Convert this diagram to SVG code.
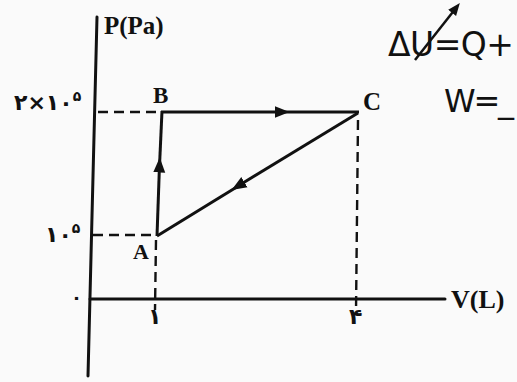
<svg xmlns="http://www.w3.org/2000/svg" width="517" height="382" viewBox="0 0 517 382">
<style>
.ax{stroke:#111;stroke-width:3;fill:none;stroke-linecap:round}
.ln{stroke:#111;stroke-width:3;fill:none}
.ds{stroke:#111;stroke-width:2.4;fill:none;stroke-dasharray:10,6}
.lb{font-family:"Liberation Serif",serif;font-weight:bold;fill:#111}
.fa{font-family:"DejaVu Sans",sans-serif;font-weight:bold;fill:#111}
.hw{font-family:"DejaVu Sans",sans-serif;fill:#111}
</style>
<defs>
<marker id="ar" viewBox="0 0 10 10" refX="5" refY="5" markerWidth="5" markerHeight="5" orient="auto" markerUnits="strokeWidth">
<path d="M0,1 L10,5 L0,9 Z" fill="#111"/>
</marker>
</defs>
<rect width="517" height="382" fill="#fafafa"/>
<g id="axes">
<line class="ax" x1="97" y1="17" x2="88" y2="376"/>
<line class="ax" x1="90" y1="299" x2="445" y2="299"/>
<text class="lb" x="104" y="34" font-size="25">P(Pa)</text>
<text class="lb" x="451" y="308" font-size="26">V(L)</text>
</g>
<g id="ticks">
<text class="fa" x="14" y="110" font-size="22">۲×۱۰<tspan font-size="14" dy="-9">۵</tspan></text>
<text class="fa" x="45" y="242" font-size="22">۱۰<tspan font-size="14" dy="-9">۵</tspan></text>
<text class="fa" x="71" y="304" font-size="18">۰</text>
<text class="fa" x="148" y="324" font-size="22">۱</text>
<text class="fa" x="349" y="324" font-size="22">۴</text>
</g>
<g id="connectors">
<line class="ds" x1="98" y1="112" x2="158" y2="112"/>
<line class="ds" x1="93" y1="235" x2="155" y2="235"/>
<line class="ds" x1="156" y1="240" x2="155" y2="310"/>
<line class="ds" x1="358" y1="120" x2="356" y2="312"/>
<line class="ln" x1="157" y1="236" x2="159.5" y2="165" marker-end="url(#ar)"/>
<line class="ln" x1="159.5" y1="166" x2="162" y2="111"/>
<line class="ln" x1="161" y1="112" x2="282" y2="112" marker-end="url(#ar)"/>
<line class="ln" x1="281" y1="112" x2="359" y2="112"/>
<line class="ln" x1="358" y1="113" x2="238" y2="186" marker-end="url(#ar)"/>
<line class="ln" x1="240" y1="185" x2="157" y2="236"/>
</g>
<g id="A"><text class="lb" x="133" y="259" font-size="22">A</text></g>
<g id="B"><text class="lb" x="153" y="103" font-size="23">B</text></g>
<g id="C"><text class="lb" x="363" y="110" font-size="25">C</text></g>
<g id="notes">
<text class="hw" x="388" y="56" font-size="33" textLength="126" lengthAdjust="spacing">ΔU=Q+</text>
<line x1="415" y1="60" x2="456" y2="8" stroke="#111" stroke-width="2.5" marker-end="url(#ar)"/>
<text class="hw" x="444" y="112" font-size="32" textLength="70" lengthAdjust="spacing">W=_</text>
</g>
</svg>
